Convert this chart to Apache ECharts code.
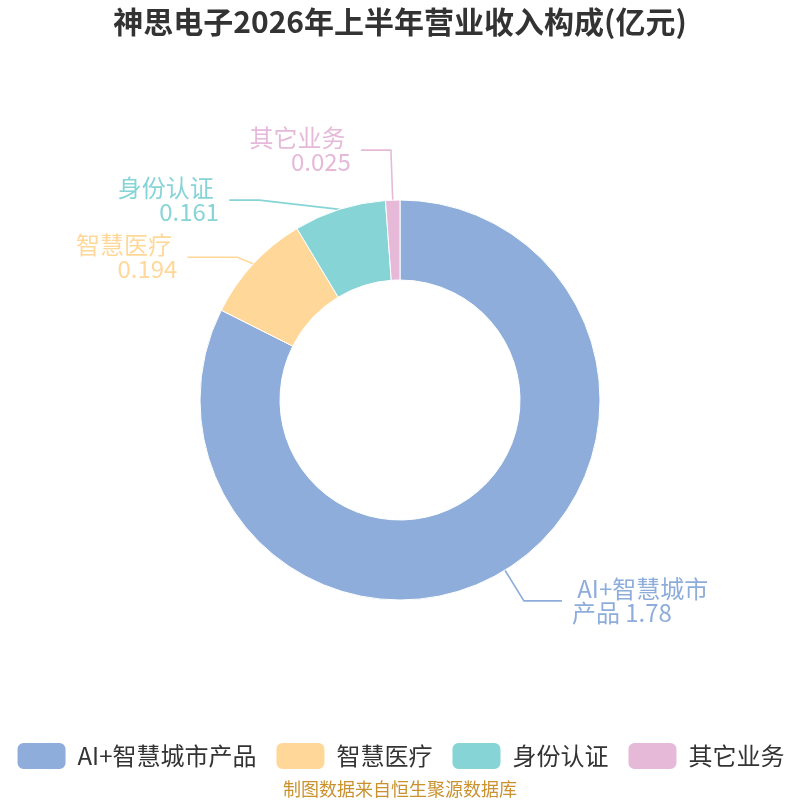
<!DOCTYPE html>
<html>
<head>
<meta charset="utf-8">
<script src="https://cdn.jsdelivr.net/npm/echarts@6/dist/echarts.min.js"></script>
<style>
  html, body { margin: 0; padding: 0; background: #fff; }
  #chart { width: 800px; height: 800px; }
</style>
</head>
<body>
<div id="chart"></div>
<script>
// data
const categories = ['AI+智慧城市产品', '智慧医疗', '身份认证', '其它业务'];
const values = [1.78, 0.194, 0.161, 0.025];
const colors = ['#8eaddb', '#ffd899', '#87d4d7', '#e6b9d9'];

// label line tweaks per slice, to keep the labels where the original had them
const lineTweaks = {
    'AI+智慧城市产品': { length: 36, length2: 38 },
    '智慧医疗': { length: 10, length2: 50 }
};

let pieChart = echarts.init(document.getElementById('chart'));
let option = {
    textStyle: {
        fontFamily: '"Noto Sans CJK SC", "Noto Sans", sans-serif'
    },
    title: {
        text: '神思电子2026年上半年营业收入构成(亿元)',
        left: 'center',
        top: 2,
        textStyle: {
            fontSize: 30,
            fontWeight: 'bold',
            color: '#333',
            fontFamily: '"Noto Sans CJK SC", sans-serif'
        }
    },
    color: colors,
    legend: {
        data: categories,
        top: 736,
        itemWidth: 50,
        itemHeight: 28,
        itemGap: 18,
        icon: 'roundRect',
        textStyle: {
            fontSize: 24,
            color: '#333',
            padding: [0, 0, 0, 6]
        }
    },
    graphic: [{
        type: 'text',
        left: 'center',
        top: 780,
        style: {
            text: '制图数据来自恒生聚源数据库',
            fontSize: 18,
            fill: '#c9922e',
            fontFamily: '"Noto Sans CJK SC", sans-serif'
        }
    }],
    series: [{
        type: 'pie',
        center: ['50%', '50%'],
        radius: ['30%', '50%'],
        startAngle: 90,
        label: {
            formatter: ' {b} {c}',
            color: 'inherit',
            fontSize: 24,
            width: 142,
            overflow: 'break',
            lineHeight: 24,
            distanceToLabelLine: 10
        },
        labelLine: {
            length: 50,
            length2: 30,
            lineStyle: {
                width: 1.6
            }
        },
        itemStyle: {
            borderColor: '#fff',
            borderWidth: 1
        },
        data: categories.map(function(name, i) {
            let item = { name: name, value: values[i] };
            if (lineTweaks[name]) {
                item.labelLine = lineTweaks[name];
            }
            return item;
        })
    }]
};
pieChart.setOption(option);
</script>
</body>
</html>
